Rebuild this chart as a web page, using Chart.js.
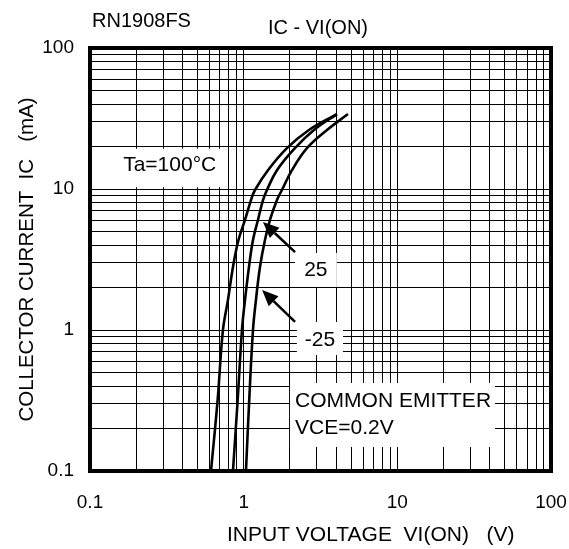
<!DOCTYPE html>
<html lang="en">
<head>
<meta charset="UTF-8">
<title>RN1908FS IC - VI(ON)</title>
<script src="https://cdn.jsdelivr.net/npm/chart.js@4/dist/chart.umd.min.js"></script>
<style>
    html, body { margin: 0; padding: 0; background: #fff; }
    #wrap { width: 569px; height: 549px; position: relative; }
</style>
</head>
<body>
<div id="wrap"><canvas id="chart"></canvas></div>
<script>
// values: VI(ON) in V, IC in mA
const currentIC = [0.1, 0.319, 1, 1.63, 2.8, 4.35, 6.03, 8.35, 9.84, 13.6, 19.5, 26.2, 34];
const ta100V = [0.613, 0.677, 0.733, 0.790, 0.852, 0.925, 1.020, 1.116, 1.185, 1.439, 1.913, 2.660, 4.046];
const ta25V = [0.852, 0.914, 0.975, 1.020, 1.083, 1.150, 1.239, 1.336, 1.418, 1.647, 2.157, 2.867, 4.046];
const taM25V = [1.035, 1.087, 1.150, 1.202, 1.277, 1.376, 1.483, 1.647, 1.775, 2.062, 2.582, 3.483, 4.771];

const decades = [0.1, 1, 10, 100];
const tickLabels = ['0.1', '1', '10', '100'];
const minorSteps = [1, 2, 3, 4, 5, 6, 7, 8, 9];

// grid ticks 0.1, 0.2 ... 90, 100
const gridTicks = [];
decades.slice(0, -1).forEach(d => minorSteps.forEach(m => gridTicks.push(Number((m * d).toPrecision(3)))));
gridTicks.push(decades[decades.length - 1]);

const FONT = '"Liberation Sans", Arial, sans-serif';

// annotation texts, in data units (V, mA)
const notes = [
    { text: 'Ta=100°C', v: 0.33, i: 14.8, align: 'center' },
    { text: '25', v: 2.95, i: 2.66, align: 'center' },
    { text: '-25', v: 3.14, i: 0.85, align: 'center' },
    { text: 'COMMON EMITTER', v: 2.16, i: 0.314, align: 'left' },
    { text: 'VCE=0.2V', v: 2.16, i: 0.202, align: 'left' }
];
// white boxes behind the notes (v0, v1, i0, i1)
const noteBoxes = [
    [0.1, 0.78, 10.3, 19.3],
    [2.16, 4.04, 2.02, 3.52],
    [2.22, 4.43, 0.665, 1.14],
    [2.0, 43.2, 0.148, 0.421]
];
// arrows from label to curve: [fromV, fromI, toV, toI]
const arrows = [
    [2.16, 3.57, 1.335, 5.83],
    [2.16, 1.14, 1.318, 1.92]
];

function series(vs, is) {
    return vs.map((v, k) => ({ x: v, y: is[k] }));
}

function decadeLabel(v) {
    const k = decades.indexOf(Number(Number(v).toPrecision(3)));
    return k < 0 ? '' : tickLabels[k];
}

const sheetText = {
    id: 'sheetText',
    beforeDatasetsDraw(chart) {
        const { ctx, scales: { x, y } } = chart;
        ctx.save();
        ctx.fillStyle = '#fff';
        noteBoxes.forEach(b => {
            const l = x.getPixelForValue(b[0]), r = x.getPixelForValue(b[1]);
            const t = y.getPixelForValue(b[3]), btm = y.getPixelForValue(b[2]);
            ctx.fillRect(l, t, r - l, btm - t);
        });
        ctx.restore();
    },
    afterDraw(chart) {
        const { ctx, chartArea: a, scales: { x, y } } = chart;
        ctx.save();
        ctx.fillStyle = '#000';
        ctx.strokeStyle = '#000';
        ctx.font = '21px ' + FONT;
        ctx.textBaseline = 'middle';
        notes.forEach(n => {
            ctx.textAlign = n.align;
            ctx.fillText(n.text, x.getPixelForValue(n.v), y.getPixelForValue(n.i));
        });

        // arrows
        ctx.lineWidth = 2.5;
        arrows.forEach(ar => {
            const x0 = x.getPixelForValue(ar[0]), y0 = y.getPixelForValue(ar[1]);
            const x1 = x.getPixelForValue(ar[2]), y1 = y.getPixelForValue(ar[3]);
            const ang = Math.atan2(y1 - y0, x1 - x0);
            const len = 16, half = 7;
            const bx = x1 - len * Math.cos(ang), by = y1 - len * Math.sin(ang);
            ctx.beginPath();
            ctx.moveTo(x0, y0);
            ctx.lineTo(bx, by);
            ctx.stroke();
            ctx.beginPath();
            ctx.moveTo(x1, y1);
            ctx.lineTo(bx + half * Math.sin(ang), by - half * Math.cos(ang));
            ctx.lineTo(bx - half * Math.sin(ang), by + half * Math.cos(ang));
            ctx.closePath();
            ctx.fill();
        });

        // heavy frame
        ctx.lineWidth = 4;
        ctx.strokeRect(a.left, a.top, a.right - a.left, a.bottom - a.top);

        // headings and x title
        ctx.font = '20px ' + FONT;
        ctx.textAlign = 'left';
        ctx.fillText('RN1908FS', a.left + 2, 21);
        ctx.fillText('IC - VI(ON)', 268, 28);
        ctx.font = '21px ' + FONT;
        ctx.fillText('INPUT VOLTAGE  VI(ON)   (V)', 227, 535);
        ctx.restore();
    }
};

new Chart(document.getElementById('chart'), {
    type: 'scatter',
    data: {
        datasets: [
            { label: 'Ta=100°C', data: series(ta100V, currentIC) },
            { label: '25', data: series(ta25V, currentIC) },
            { label: '-25', data: series(taM25V, currentIC) }
        ].map(ds => Object.assign(ds, {
            showLine: true,
            borderColor: '#000',
            borderWidth: 2.6,
            pointRadius: 0,
            tension: 0.4
        }))
    },
    options: {
        responsive: true,
        maintainAspectRatio: false,
        animation: false,
        layout: { padding: { left: 0, top: 48, right: 0, bottom: 0 } },
        plugins: {
            legend: { display: false },
            tooltip: { enabled: false }
        },
        scales: {
            x: {
                type: 'logarithmic',
                min: 0.1,
                max: 100,
                afterBuildTicks: s => { s.ticks = gridTicks.map(v => ({ value: v })); },
                afterFit: s => { s.height = 78; s.paddingRight = 18; s.paddingLeft = 0; },
                grid: { color: '#000', lineWidth: 1, drawTicks: false },
                border: { display: false },
                ticks: {
                    autoSkip: false,
                    maxRotation: 0,
                    padding: 20,
                    color: '#000',
                    font: { family: FONT, size: 19 },
                    callback: decadeLabel
                }
            },
            y: {
                type: 'logarithmic',
                min: 0.1,
                max: 100,
                afterBuildTicks: s => { s.ticks = gridTicks.map(v => ({ value: v })); },
                afterFit: s => { s.width = 90; },
                grid: { color: '#000', lineWidth: 1, drawTicks: false },
                border: { display: false },
                title: {
                    display: true,
                    text: 'COLLECTOR CURRENT  IC   (mA)',
                    color: '#000',
                    font: { family: FONT, size: 20.5, weight: 'normal' },
                    padding: { top: 15, bottom: 0 }
                },
                ticks: {
                    autoSkip: false,
                    padding: 16,
                    color: '#000',
                    font: { family: FONT, size: 19 },
                    callback: decadeLabel
                }
            }
        }
    },
    plugins: [sheetText]
});
</script>
</body>
</html>
